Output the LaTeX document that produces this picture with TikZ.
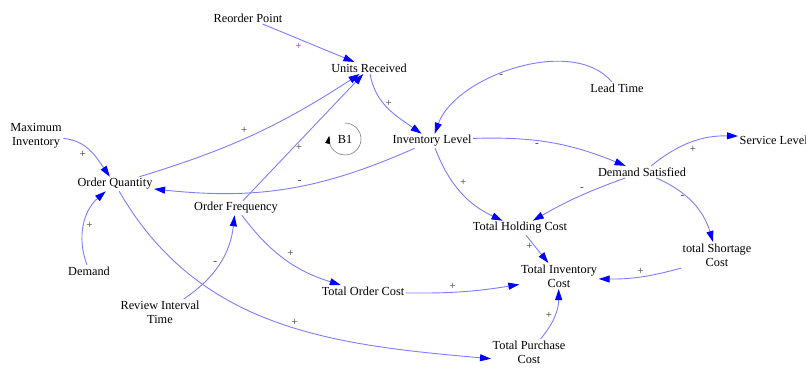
\documentclass[tikz,border=0pt]{standalone}
\usepackage{fontspec}
\setmainfont{Liberation Serif}
\usetikzlibrary{arrows.meta}
\definecolor{linkblue}{RGB}{125,125,255}
\definecolor{signgray}{RGB}{60,45,45}
\tikzset{
  var/.style={inner sep=1.5pt,text=black,align=center,font=\fontsize{12.3}{14}\selectfont},
  link/.style={draw=linkblue,line width=.9pt,-{Triangle[length=11pt,width=7pt,color=blue]}},
  sgn/.style={text=signgray,inner sep=2pt,font=\fontsize{11}{11}\selectfont}
}
\begin{document}
\begin{tikzpicture}[x=1pt,y=1pt]
  \useasboundingbox (0,0) rectangle (806,-371);
  % variables
  \node[var] (rp)  at (248,-18)  {Reorder Point};
  \node[var] (ur)  at (369,-68)  {Units Received};
  \node[var] (lt)  at (617,-88)  {Lead Time};
  \node[var] (mi)  at (36,-136)  {Maximum\\Inventory};
  \node[var] (il)  at (432,-141) {Inventory Level};
  \node[var,anchor=west] (sl) at (738,-140) {Service Level};
  \node[var] (oq)  at (115,-184) {Order Quantity};
  \node[var] (of)  at (236,-208) {Order Frequency};
  \node[var] (ds)  at (642,-172) {Demand Satisfied};
  \node[var] (thc) at (520,-228) {Total Holding Cost};
  \node[var] (dem) at (89,-271)  {Demand};
  \node[var] (tsc) at (717,-255) {total Shortage\\Cost};
  \node[var] (tic) at (559,-276) {Total Inventory\\Cost};
  \node[var] (toc) at (363,-291) {Total Order Cost};
  \node[var] (rit) at (160,-312) {Review Interval\\Time};
  \node[var] (tpc) at (529,-352) {Total Purchase\\Cost};
  % loop marker
  \node[var] (b1) at (345,-139) {B1};
  \draw[gray,line width=.6pt,-{Triangle[length=8pt,width=5pt,color=black]}]
    (b1) ++(90:16) arc[start angle=90,end angle=-192,radius=16];
  % links
  \draw[link] (rp) to node[sgn,pos=.45,below left,text=violet!80]{+} (ur);
  \draw[link] (ur) to[out=-80,in=145] node[sgn,pos=.4,right]{+} (il);
  \draw[link] (lt) to[out=130,in=70,looseness=.85] node[sgn,pos=.55,below left]{-} (il);
  \draw[link] (mi) to[out=-5,in=125] node[sgn,pos=.45,below left]{+} (oq);
  \draw[link] (oq) to[bend right=8] node[sgn,pos=.48,above left]{+} (ur);
  \draw[link] (of) to node[sgn,pos=.42,right]{+} (ur);
  \draw[link] (il) to[bend left=15] node[sgn,pos=.45,above]{-} (oq);
  \draw[link] (il) to[bend left=12] node[sgn,pos=.4,below]{-} (ds);
  \draw[link] (ds) to[bend left=20] node[sgn,pos=.45,below right]{+} (sl);
  \draw[link] (il) to[bend right=22] node[sgn,pos=.45,above right]{+} (thc);
  \draw[link] (ds) to[bend right=5] node[sgn,pos=.4,above left]{-} (thc);
  \draw[link] (ds) to[bend left=25] node[sgn,pos=.4,left]{-} (tsc);
  \draw[link] (dem) to[bend left=35] node[sgn,pos=.5,right]{+} (oq);
  \draw[link] (rit) to[bend right=25] node[sgn,pos=.5,left]{-} (of);
  \draw[link] (of) to[bend right=18] node[sgn,pos=.5,above right]{+} (toc);
  \draw[link] (oq) to[out=-60,in=175] node[sgn,pos=.55,above]{+} (tpc.190);
  \draw[link] (thc) to node[sgn,pos=.4,left]{+} (tic);
  \draw[link] (tsc.200) to[bend left=8] node[sgn,pos=.5,above]{+} (tic);
  \draw[link] (toc) to[bend right=5] node[sgn,pos=.4,above]{+} (tic.192);
  \draw[link] (tpc) to[bend right=20] node[sgn,pos=.5,left]{+} (tic);
\end{tikzpicture}
\end{document}
